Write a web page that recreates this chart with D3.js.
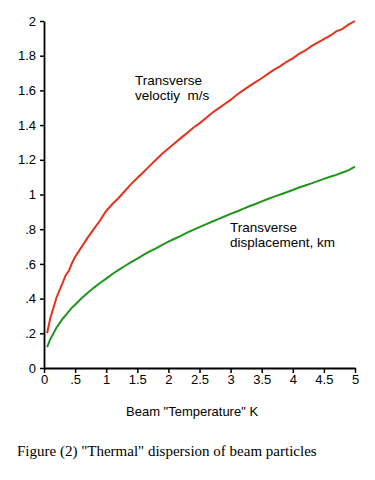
<!DOCTYPE html>
<html>
<head>
<meta charset="utf-8">
<script src="https://cdn.jsdelivr.net/npm/d3@7"></script>
<style>
  html, body { margin: 0; padding: 0; background: #fff; }
  svg { display: block; }
</style>
</head>
<body>
<svg id="chart" width="375" height="480"></svg>
<script>
// Beam "temperature" (K)
const temperature = [0.05, 0.1, 0.2, 0.3, 0.35, 0.4, 0.45, 0.5, 0.6, 0.7, 0.8, 0.9, 1.0, 1.1, 1.2, 1.3, 1.4, 1.5, 1.6, 1.7, 1.8, 1.9, 2.0,
  2.1, 2.2, 2.3, 2.4, 2.5, 2.6, 2.7, 2.8, 2.9, 3.0, 3.1, 3.2, 3.3, 3.4, 3.5, 3.6, 3.7, 3.8, 3.9, 4.0,
  4.1, 4.2, 4.3, 4.4, 4.5, 4.6, 4.7, 4.8, 4.9, 5.0];
// Transverse velocity, m/s
const velocity = [0.20, 0.285, 0.405, 0.49, 0.535, 0.56, 0.605, 0.64, 0.695, 0.75, 0.80, 0.85, 0.905, 0.945, 0.98, 1.02, 1.06, 1.095, 1.13, 1.165, 1.20, 1.235, 1.265,
  1.295, 1.325, 1.355, 1.385, 1.41, 1.44, 1.47, 1.495, 1.52, 1.545, 1.575, 1.60, 1.625, 1.648, 1.67, 1.695, 1.72, 1.74, 1.765, 1.785,
  1.81, 1.83, 1.855, 1.875, 1.895, 1.915, 1.94, 1.955, 1.98, 2.0];
// Transverse displacement, km
const displacement = [0.12, 0.165, 0.232, 0.284, 0.305, 0.326, 0.348, 0.365, 0.40, 0.432, 0.462, 0.49, 0.515, 0.542, 0.566, 0.588, 0.61, 0.63, 0.652, 0.672, 0.69, 0.71, 0.728,
  0.745, 0.762, 0.78, 0.796, 0.812, 0.828, 0.843, 0.858, 0.873, 0.888, 0.902, 0.917, 0.932, 0.945, 0.96, 0.974, 0.988, 1.0, 1.013, 1.026,
  1.04, 1.052, 1.064, 1.077, 1.09, 1.102, 1.113, 1.127, 1.14, 1.16];

const xTicks = [0, 0.5, 1, 1.5, 2, 2.5, 3, 3.5, 4, 4.5, 5];
const xTickLabels = ["0", ".5", "1", "1.5", "2", "2.5", "3", "3.5", "4", "4.5", "5"];
const yTicks = [0, 0.2, 0.4, 0.6, 0.8, 1, 1.2, 1.4, 1.6, 1.8, 2];
const yTickLabels = ["0", ".2", ".4", ".6", ".8", "1", "1.2", "1.4", "1.6", "1.8", "2"];

const svg = d3.select("#chart");
const m = { left: 44, right: 355, top: 21, bottom: 368 };

const x = d3.scaleLinear().domain([0, 5]).range([m.left, m.right]);
const y = d3.scaleLinear().domain([0, 2]).range([m.bottom, m.top]);

const sans = "'Liberation Sans', Arial, Helvetica, sans-serif";

const xAxis = d3.axisBottom(x).tickValues(xTicks)
  .tickFormat((d, i) => xTickLabels[i]).tickSize(5).tickPadding(2).tickSizeOuter(0);
const yAxis = d3.axisLeft(y).tickValues(yTicks)
  .tickFormat((d, i) => yTickLabels[i]).tickSize(4).tickPadding(4).tickSizeOuter(0);

const gx = svg.append("g").attr("transform", `translate(0,${m.bottom})`).call(xAxis);
const gy = svg.append("g").attr("transform", `translate(${m.left},0)`).call(yAxis);

[gx, gy].forEach(g => {
  g.selectAll(".domain").attr("stroke", "#000").attr("stroke-width", 1.8);
  g.selectAll(".tick line").attr("stroke", "#000").attr("stroke-width", 1.5);
  g.selectAll(".tick text").attr("fill", "#000").style("font-family", sans).style("font-size", "13px");
});

const pts = (vals) => temperature.map((t, i) => [t, vals[i]]);
const line = d3.line().x(d => x(d[0])).y(d => y(d[1]));

svg.append("path").datum(pts(velocity)).attr("d", line)
  .attr("fill", "none").attr("stroke", "#e5321c").attr("stroke-width", 2);
svg.append("path").datum(pts(displacement)).attr("d", line)
  .attr("fill", "none").attr("stroke", "#1f951c").attr("stroke-width", 2);

const label = (tx, ty, txt) => svg.append("text").attr("x", tx).attr("y", ty).text(txt)
  .attr("fill", "#000").style("font-family", sans).style("font-size", "13.5px");

label(135, 85, "Transverse");
label(135, 100, "veloctiy  m/s").attr("xml:space", "preserve").style("white-space", "pre");
label(230, 232, "Transverse");
label(230, 247, "displacement, km");

svg.append("text").attr("x", 126).attr("y", 416).text('Beam "Temperature" K')
  .attr("fill", "#000").style("font-family", sans).style("font-size", "13px");

svg.append("text").attr("x", 17).attr("y", 456).text('Figure (2) "Thermal" dispersion of beam particles')
  .attr("fill", "#000").style("font-family", "'Liberation Serif', 'Times New Roman', serif").style("font-size", "15px");
</script>
</body>
</html>
